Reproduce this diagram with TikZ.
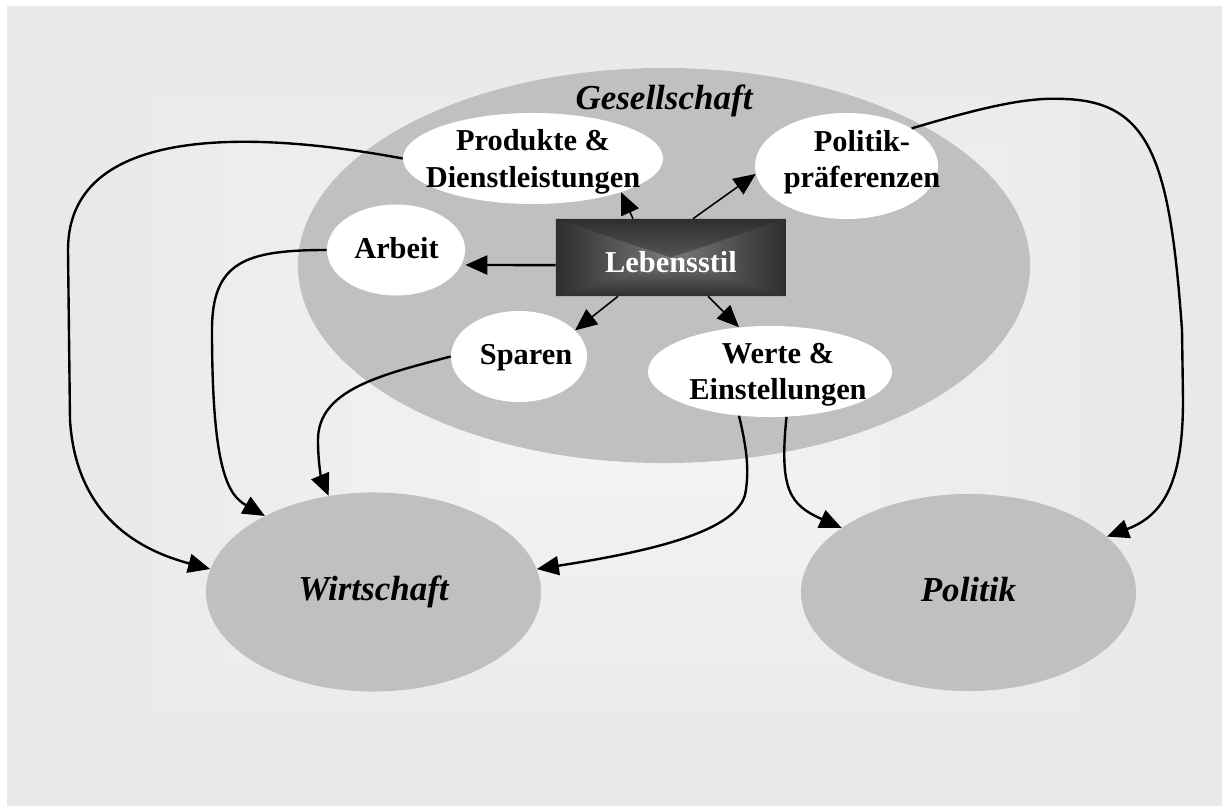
\documentclass[tikz,border=0pt]{standalone}
\usepackage{fontspec}
\setmainfont{Liberation Serif}
\usepackage{xcolor}
\usetikzlibrary{shapes.geometric, positioning, arrows.meta}

\definecolor{bgedge}{HTML}{E9E9E9}
\definecolor{bgmid}{HTML}{F4F4F4}
\definecolor{blobgray}{HTML}{C0C0C0}
\definecolor{lebinner}{HTML}{7A7A7A}
\definecolor{lebouter}{HTML}{2E2E2E}

\begin{document}
\begin{tikzpicture}[x=0.025cm, y=-0.025cm, >={Triangle[length=5.5mm, width=4.75mm]},
		sphere/.style={ellipse, fill=blobgray, inner sep=0pt},
		bubble/.style={ellipse, fill=white, inner sep=0pt},
		bubtext/.style={align=center, font=\fontsize{21.6}{25.9}\selectfont\bfseries},
		bigtext/.style={text depth=0.175cm, font=\fontsize{24.9}{28}\selectfont\bfseries\itshape},
		lebbox/.style={rectangle, minimum width=5.75cm, minimum height=1.925cm, fill=lebouter, text=white, text height=0.775cm, font=\fontsize{21.6}{25.9}\selectfont\bfseries,
			path picture={
				\shade[top color=lebouter, middle color=lebouter!78!lebinner, bottom color=lebinner] (path picture bounding box.north west) -- (path picture bounding box.north east) -- (path picture bounding box.center) -- cycle;
				\shade[top color=lebinner, middle color=lebouter!78!lebinner, bottom color=lebouter] (path picture bounding box.south west) -- (path picture bounding box.south east) -- (path picture bounding box.center) -- cycle;
				\shade[left color=lebouter, middle color=lebouter!78!lebinner, right color=lebinner] (path picture bounding box.north west) -- (path picture bounding box.south west) -- (path picture bounding box.center) -- cycle;
				\shade[left color=lebinner, middle color=lebouter!78!lebinner, right color=lebouter] (path picture bounding box.north east) -- (path picture bounding box.south east) -- (path picture bounding box.center) -- cycle;
			}},
		link/.style={->, line width=1.7pt},
		thinlink/.style={->, line width=1.1pt}]
		% Background
		\useasboundingbox (0,0) rectangle (1224,807);
		\fill[bgedge] (7,6) rectangle (1222,806);
		\foreach \i [evaluate=\i as \s using 1-(\i-1)/8, evaluate=\i as \p using 12.5*\i] in {1,...,8}
			\fill[bgmid!\p!bgedge] ({614-526*\s},{406-346*\s}) rectangle ({614+526*\s},{406+346*\s});
		
		% Big areas
		\node[sphere, minimum width=18.3cm, minimum height=9.875cm] (ges) at (664,265.5) {};
		\node[bigtext] (gestext) at (664,101) {Gesellschaft};
		\node[sphere, bigtext, minimum width=8.375cm, minimum height=4.975cm] (wirt) at (373.5,592) {Wirtschaft};
		\node[sphere, bigtext, minimum width=8.375cm, minimum height=4.925cm] (pol) at (968.5,592.5) {Politik};
		
		% Nodes
		\node[bubble, minimum width=6.5cm, minimum height=2.275cm] (prod) at (533,158.5) {};
		\node[bubtext] (prodtext) at (533,162) {Produkte \&\\Dienstleistungen};
		\node[bubble, minimum width=4.575cm, minimum height=2.65cm] (polpref) at (846.5,166) {};
		\node[bubtext] (polpreftext) at (862,162) {Politik-\\präferenzen};
		\node[bubble, minimum width=3.45cm, minimum height=2.275cm] (arbeit) at (396,250) {};
		\node[bubtext] (arbeittext) at (396.5,248) {Arbeit};
		\node[bubble, minimum width=3.4cm, minimum height=2.275cm] (sparen) at (519,356.5) {};
		\node[bubtext] (sparentext) at (526,358) {Sparen};
		\node[bubble, minimum width=6.1cm, minimum height=2.275cm] (werte) at (770,371.5) {};
		\node[bubtext] (wertetext) at (778,375) {Werte \&\\Einstellungen};
		\node[lebbox] (leb) at (671,257.5) {Lebensstil};
		
		% Lebensstil arrows
		\draw[link] ([yshift=-0.19cm]leb.west) -- ([yshift=-0.375cm]arbeit.east);
		\draw[thinlink] ([xshift=-0.95cm]leb.north) -- (prod.-21);
		\draw[thinlink] ([xshift=0.55cm]leb.north) -- (polpref.185);
		\draw[thinlink] ([xshift=-1.325cm]leb.south) -- (sparen.25);
		\draw[thinlink] ([xshift=0.925cm]leb.south) -- (werte.125);
		
		% Curves to Wirtschaft
		\draw[link] (prod.west) .. controls (250,130) and (68,125) .. (68,250) -- (70,420) .. controls (75,500) and (120,545) .. (wirt.172);
		\draw[link] (arbeit.west) .. controls (245,250) and (212,262) .. (212,330) .. controls (212,470) and (228,495) .. (wirt.145);
		\draw[link] (sparen.west) .. controls (380,375) and (318,390) .. (318,440) .. controls (318,465) and (322,480) .. (wirt.115);
		\draw[link] (werte.-125) .. controls (746,445) and (750,470) .. (745,495) .. controls (735,530) and (660,550) .. (wirt.8);
		
		% Curves to Politik
		\draw[link] (werte.-70) .. controls (779,490) and (790,505) .. (pol.153);
		\draw[link] (polpref.30) .. controls (990,105) and (1030,97) .. (1065,99) .. controls (1150,102) and (1170,160) .. (1182,330) -- (1183,400) .. controls (1183,480) and (1165,515) .. (pol.22);
	\end{tikzpicture}
\end{document}
